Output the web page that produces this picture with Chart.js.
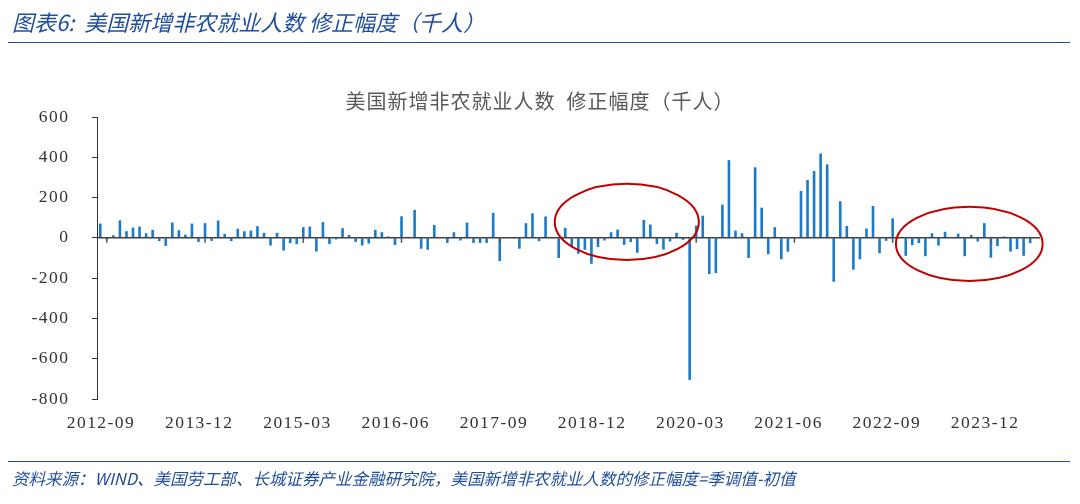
<!DOCTYPE html>
<html><head><meta charset="utf-8">
<script src="https://cdn.jsdelivr.net/npm/chart.js@4"></script>
<style>
html,body{margin:0;padding:0;background:#fff;width:1080px;height:504px;overflow:hidden;font-family:"Noto Sans CJK SC",sans-serif}
#wrap{position:absolute;left:0;top:0;width:1080px;height:504px}
#hdr{position:absolute;left:12px;top:5px;font-size:22px;font-style:italic;color:#1F4E9A;white-space:nowrap}
#hline{position:absolute;left:8px;top:42px;width:1062px;height:0;border-top:1.5px solid #1F4E9A}
#ttl{position:absolute;left:0;width:1080px;top:86px;text-align:center;font-size:20px;color:#595959;letter-spacing:1px}
#fline{position:absolute;left:8px;top:461px;width:1062px;border-top:1.5px solid #1F4E9A}
#src{position:absolute;left:12px;top:466px;font-size:16.5px;font-style:italic;color:#1F4E9A;white-space:nowrap}
</style></head><body>
<div id="wrap"><canvas id="c" width="1080" height="504"></canvas></div>
<div id="hdr">图表6:&nbsp;&nbsp;美国新增非农就业人数&nbsp;修正幅度（千人）</div>
<div id="hline"></div>
<div id="ttl">美国新增非农就业人数&nbsp;&nbsp;修正幅度（千人）</div>
<div id="fline"></div>
<div id="src">资料来源：WIND、美国劳工部、长城证券产业金融研究院，美国新增非农就业人数的修正幅度=季调值-初值</div>
<script>
const startYear = 2012, startMonth = 9, monthCount = 144;
const revisions = [
 71,-8,13,87,33,51,56,23,40,-16,-40,76,38,16,71,-20,73,-15,86,20,-16,45,33,36,58,25,-38,25,-63,-26,-31,53,56,-68,78,-31,-8,
 48,15,-20,-38,-28,40,28,7,-36,107,4,139,-54,-59,64,3,-25,28,-13,76,-25,-25,-25,124,-115,2,-3,-54,73,122,-16,106,3,-100,50,-46,
 -79,-59,-129,-46,-13,28,41,-35,-21,-74,89,66,-30,-58,-18,25,-10,-705,
 61,110,-180,-175,165,386,36,23,-100,350,150,-81,53,-106,-69,2,233,287,332,
 419,365,-218,182,59,-158,-106,46,158,-76,-15,97,3,-89,-36,-26,-91,
 23,-38,30,3,21,-91,15,-18,73,-99,-41,7,-68,-56,-89,-26,null
];
const yTicks = [-800,-600,-400,-200,0,200,400,600];
const labelEvery = 15;
const highlights = [ {cx:80.4, cy:79, rx:11, ry:189}, {cx:132.7, cy:-30, rx:11.2, ry:184} ];

const categories = [];
for (let i=0;i<monthCount;i++){
  const m = startMonth-1+i;
  const y = startYear+Math.floor(m/12), mo = m%12+1;
  categories.push(y+'-'+String(mo).padStart(2,'0'));
}
const overlay = {
  id:'overlay',
  afterDatasetsDraw(chart){
    const {ctx, scales:{x,y}} = chart;
    ctx.save();
    const y0 = y.getPixelForValue(0);
    ctx.strokeStyle='#404040'; ctx.lineWidth=1.5;
    ctx.beginPath(); ctx.moveTo(x.left,y0); ctx.lineTo(x.right,y0); ctx.stroke();
    ctx.strokeStyle='#555'; ctx.lineWidth=1.5;
    const w = (x.right-x.left)/monthCount;
    for (let i=0;i<=monthCount;i+=labelEvery){
      const px = x.getPixelForValue(i) + w;
      ctx.beginPath(); ctx.moveTo(px,y0); ctx.lineTo(px,y0+5); ctx.stroke();
    }
    ctx.strokeStyle='#C00000'; ctx.lineWidth=2;
    for (const h of highlights){
      const cx = x.getPixelForValue(h.cx), cy = y.getPixelForValue(h.cy);
      const rx = h.rx*w, ry = Math.abs(y.getPixelForValue(h.ry)-y.getPixelForValue(0));
      ctx.beginPath(); ctx.ellipse(cx,cy,rx,ry,0,0,Math.PI*2); ctx.stroke();
    }
    ctx.restore();
  }
};
new Chart(document.getElementById('c'),{
  type:'bar',
  data:{labels:categories,datasets:[{data:revisions,backgroundColor:'#1A7BCB',barPercentage:0.4,categoryPercentage:1}]},
  options:{
    responsive:false,animation:false,
    layout:{padding:{left:0,right:40,top:117,bottom:0}},
    plugins:{legend:{display:false},tooltip:{enabled:false}},
    scales:{
      x:{offset:true,grid:{display:false},border:{display:false},
        afterFit(s){s.height=105;},
        ticks:{autoSkip:false,maxRotation:0,padding:6,color:'#333',font:{family:'Liberation Serif',size:17.5},
          callback:(v,i)=> i%labelEvery===0 ? categories[i].split('').join('\u200A') : ''}},
      y:{min:-800,max:600,
        afterFit(s){s.width=97;},
        afterBuildTicks(s){s.ticks=yTicks.map(v=>({value:v}));},
        grid:{drawOnChartArea:false,tickLength:5,color:'#333'},
        border:{display:true,color:'#333',width:1},
        ticks:{padding:24,color:'#333',font:{family:'Liberation Serif',size:17.5},
          callback:v=>String(v).split('').join('\u200A')}}
    }
  },
  plugins:[overlay]
});
</script></body></html>
